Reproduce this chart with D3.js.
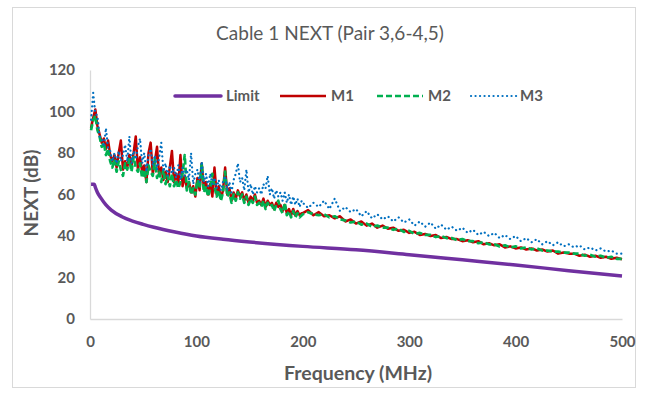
<!DOCTYPE html>
<html>
<head>
<meta charset="utf-8">
<script src="https://cdn.jsdelivr.net/npm/d3@7"></script>
<style>
  body { margin: 0; background: #fff; }
  svg { display: block; font-family: Lato, "Open Sans", sans-serif; }
</style>
</head>
<body>
<svg width="648" height="394"></svg>
<script>
// frequency grid (MHz) shared by M1, M2, M3
const freq = [
  1, 3, 5, 7, 9, 11, 13, 15, 17, 19, 21, 23, 25, 27, 29, 31, 33, 35, 37, 39,
  41, 43, 45, 47, 49, 51, 53, 55, 57, 59, 61, 63, 65, 67, 69, 71, 73, 75, 77, 79,
  81, 83, 85, 87, 89, 91, 93, 95, 97, 99, 101, 103, 105, 107, 109, 111, 113, 115, 117, 119,
  121, 123, 125, 127, 129, 131, 133, 135, 137, 139, 141, 143, 145, 147, 149, 151, 153, 155, 157, 159,
  161, 163, 165, 167, 169, 171, 173, 175, 177, 179, 181, 183, 185, 187, 189, 191, 193, 195, 197, 199,
  200, 205, 210, 215, 220, 225, 230, 235, 240, 245, 250, 255, 260, 265, 270, 275, 280, 285, 290, 295,
  300, 305, 310, 315, 320, 325, 330, 335, 340, 345, 350, 355, 360, 365, 370, 375, 380, 385, 390, 395,
  400, 405, 410, 415, 420, 425, 430, 435, 440, 445, 450, 455, 460, 465, 470, 475, 480, 485, 490, 495, 500
];

const m1 = [
  92, 97, 101, 93, 89, 85, 87, 82, 86, 79, 76, 79, 73, 80, 86, 72, 76, 73, 79, 74,
  80, 88, 72, 78, 71, 74, 66, 80, 85, 70, 76, 83, 69, 73, 67, 71, 66, 73, 81, 66,
  70, 65, 79, 64, 69, 63, 66, 61, 64, 59, 68, 62, 75, 63, 66, 60, 65, 59, 73, 60,
  64, 58, 62, 73, 60, 63, 57, 61, 58, 62, 59, 61, 57, 60, 56, 59, 57, 60, 56, 57,
  55, 58, 54, 57, 55, 56, 53, 56, 54, 55, 52, 55, 51, 53, 50, 53, 50, 52, 50, 51,
  51, 52.5, 50, 51.5, 49.5, 50, 48.5, 49.5, 47, 48, 46, 47, 45, 46, 44, 45, 43.5, 44, 42.5, 43,
  41.5, 42, 40.5, 41, 40, 40.5, 39, 39.5, 38.5, 38.5, 37.5, 38, 37, 37.5, 36, 36.5, 35.5, 36, 34.5, 35,
  34, 34.5, 33.5, 34, 33, 33.5, 32.5, 33, 31.5, 32, 31.5, 31.5, 30.5, 31, 30, 30.5, 29.5, 30, 29, 29.5, 28.8
];

const m2 = [
  91, 96, 98, 91, 88, 83, 85, 79, 82, 76, 73, 77, 71, 76, 72, 69, 75, 72, 77, 71,
  78, 73, 71, 75, 68, 72, 66, 74, 71, 69, 77, 68, 71, 66, 72, 65, 69, 64, 70, 64,
  67, 63, 66, 70, 79, 62, 66, 60, 63, 60, 67, 63, 75, 61, 64, 59, 63, 70, 64, 59,
  62, 57, 61, 71, 59, 61, 56, 60, 57, 61, 58, 60, 56, 59, 55, 58, 56, 59, 55, 56,
  54, 57, 53, 56, 54, 55, 52, 55, 57, 53, 51, 56, 50, 52, 49, 52, 49, 51, 49, 50,
  50.5, 51.5, 50.5, 50, 50.5, 49, 49.5, 48, 47.5, 46.5, 47, 45.5, 46, 44.5, 45, 44, 44, 43, 43.5, 42,
  42.5, 41, 41.5, 40.5, 40.5, 39.5, 40, 39, 39, 38, 38.5, 37.5, 37.5, 36.5, 37, 36, 36, 35, 35.5, 34.5,
  35, 34, 34.5, 33.5, 34, 33, 33, 32.5, 32.5, 32, 32, 31.5, 31.5, 30.5, 31, 30, 30.5, 29.5, 30, 29, 29
];

const m3 = [
  96, 109, 99, 98, 88, 87, 83, 92, 82, 81, 76, 80, 75, 81, 76, 79, 84, 76, 88, 75,
  81, 77, 83, 87, 75, 80, 71, 79, 82, 74, 79, 72, 78, 85, 71, 75, 69, 74, 70, 73,
  68, 74, 67, 73, 69, 72, 67, 80, 65, 70, 72, 66, 76, 66, 70, 64, 70, 65, 68, 63,
  67, 62, 66, 69, 62, 66, 61, 67, 70, 75, 66, 68, 62, 72, 61, 65, 60, 64, 61, 63,
  60, 65, 63, 69, 60, 63, 58, 62, 59, 61, 57, 61, 56, 60, 55, 59, 55, 58, 54, 57,
  56, 53.5, 56, 54, 57, 53, 58, 52, 54, 51.5, 53, 49.5, 52, 48.5, 50.5, 48, 49.5, 47, 49, 46.5,
  48, 45, 47, 44.5, 46.5, 43.5, 45.5, 43, 44.5, 42.5, 44, 41.5, 43, 40.5, 42, 40, 41.5, 39, 40.5, 38.5,
  40, 37.5, 39, 37, 38.5, 36, 37.5, 35.5, 37, 35, 36, 34.5, 35.5, 33.5, 34.5, 33, 34, 32.5, 33, 31.5, 31.5
];

// limit curve
const limitFreq = [1, 4, 5, 7, 10, 15, 20, 30, 40, 50, 60, 80, 100, 125, 150, 200, 250, 300, 350, 400, 450, 500];
const limitValues = [65, 65, 63.5, 61, 58.5, 55, 52.5, 49.3, 47.2, 45.6, 44.2, 41.9, 40, 38.4, 37.1, 35, 33.4, 31, 28.5, 26, 23.3, 20.7];

const xTicks = [0, 100, 200, 300, 400, 500];
const yTicks = [0, 20, 40, 60, 80, 100, 120];
const seriesNames = ["Limit", "M1", "M2", "M3"];

const colors = { Limit: "#7030A0", M1: "#C00000", M2: "#00B050", M3: "#0070C0" };
const widths = { Limit: 3.5, M1: 2.5, M2: 2.7, M3: 2.2 };
const dashes = { Limit: null, M1: null, M2: "6,3", M3: "0.1,4.4" };

let svg = d3.select("svg");

// outer border
svg.append("rect")
    .attr("x", 12.5).attr("y", 7.5)
    .attr("width", 623).attr("height", 380)
    .attr("fill", "#fff")
    .attr("stroke", "#D9D9D9")
    .attr("stroke-width", 1);

let xScale = d3.scaleLinear().domain([0, 500]).range([90, 622]);
let yScale = d3.scaleLinear().domain([0, 120]).range([319, 70]);

// title
svg.append("text")
    .attr("x", 330).attr("y", 40)
    .attr("text-anchor", "middle")
    .attr("fill", "#595959")
    .style("font-size", "19px")
    .text("Cable 1 NEXT (Pair 3,6-4,5)");

// axes
let xAxis = d3.axisBottom(xScale).tickValues(xTicks).tickSize(0).tickPadding(17);
let yAxis = d3.axisLeft(yScale).tickValues(yTicks).tickSize(0).tickPadding(15);

let gx = svg.append("g").attr("transform", "translate(0,319)").call(xAxis);
let gy = svg.append("g").attr("transform", "translate(90,0)").call(yAxis);

[gx, gy].forEach(g => {
    g.select(".domain").attr("stroke", "#D9D9D9").attr("stroke-width", 1.3);
    g.selectAll("text")
        .attr("fill", "#595959")
        .style("font-size", "15px")
        .style("font-weight", "bold")
        .style("font-family", "Lato, sans-serif");
});

// axis titles
svg.append("text")
    .attr("x", 358).attr("y", 380)
    .attr("text-anchor", "middle")
    .attr("fill", "#595959")
    .style("font-size", "19.5px")
    .style("font-weight", "bold")
    .text("Frequency (MHz)");

svg.append("text")
    .attr("transform", "translate(38,193) rotate(-90)")
    .attr("text-anchor", "middle")
    .attr("fill", "#595959")
    .style("font-size", "19px")
    .style("font-weight", "bold")
    .text("NEXT (dB)");

// lines
let line = d3.line()
    .x(d => xScale(d[0]))
    .y(d => yScale(d[1]));

let smoothLine = d3.line()
    .x(d => xScale(d[0]))
    .y(d => yScale(d[1]))
    .curve(d3.curveMonotoneX);

const seriesData = {
    Limit: limitFreq.map((f, i) => [f, limitValues[i]]),
    M1: freq.map((f, i) => [f, m1[i]]),
    M2: freq.map((f, i) => [f, m2[i]]),
    M3: freq.map((f, i) => [f, m3[i]])
};

seriesNames.forEach(name => {
    svg.append("path")
        .datum(seriesData[name])
        .attr("d", name === "Limit" ? smoothLine : line)
        .attr("fill", "none")
        .attr("stroke", colors[name])
        .attr("stroke-width", widths[name])
        .attr("stroke-dasharray", dashes[name])
        .attr("stroke-linecap", name === "M3" ? "round" : "butt")
        .attr("stroke-linejoin", "round");
});

// legend
const legendX = [175, 280, 377, 471];
let legend = svg.append("g").attr("transform", "translate(0,96)");
seriesNames.forEach((name, i) => {
    legend.append("line")
        .attr("x1", legendX[i]).attr("x2", legendX[i] + 46)
        .attr("y1", 0).attr("y2", 0)
        .attr("stroke", colors[name])
        .attr("stroke-width", widths[name])
        .attr("stroke-dasharray", dashes[name])
        .attr("stroke-linecap", name === "M3" ? "round" : (name === "Limit" ? "round" : "butt"));
    legend.append("text")
        .attr("x", legendX[i] + (name === "M3" ? 49 : 51))
        .attr("y", 0)
        .attr("dy", "0.35em")
        .attr("fill", "#595959")
        .style("font-size", "15px")
        .style("font-weight", "bold")
        .text(name);
});
</script>
</body>
</html>
